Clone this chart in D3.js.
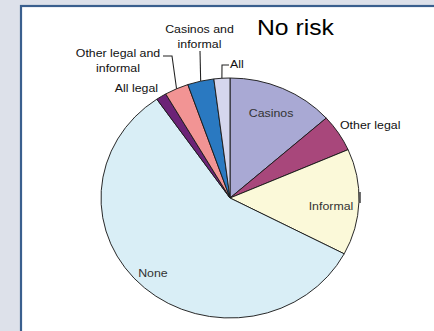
<!DOCTYPE html>
<html>
<head>
<meta charset="utf-8">
<script src="https://cdn.jsdelivr.net/npm/d3@7"></script>
<style>
  html, body { margin: 0; padding: 0; background: #dde1ea; }
  svg { display: block; font-family: "Liberation Sans", Arial, sans-serif; }
</style>
</head>
<body>
<div id="chart"></div>
<script>
// slices, clockwise from 12 o'clock
let categories = ["Casinos", "Other legal", "Informal", "None", "All legal",
  "Other legal and informal", "Casinos and informal", "All"];
let shares = [13.4, 5.0, 14.3, 57.7, 1.3, 3.0, 3.3, 2.0];
let sliceColors = ["#a9a9d4", "#a8477b", "#fbf9d9", "#d9eef6", "#6c2377",
  "#f29494", "#2a79c1", "#d5d6ed"];
let title = "No risk";

let width = 434;
let height = 331;
let stretch = 1.075;       // source picture is a bit wider than tall
let cx = 230 / stretch;
let cy = 198;
let radius = 120;

let svg = d3.select("#chart")
  .append("svg")
  .attr("width", width)
  .attr("height", height);

// white panel with blue frame
svg.append("rect")
  .attr("x", 21).attr("y", 6)
  .attr("width", width).attr("height", height)
  .attr("fill", "#fff")
  .attr("stroke", "#3a5f8e")
  .attr("stroke-width", 2.2);

let g = svg.append("g").attr("transform", "scale(" + stretch + ",1)");

let data = categories.map((c, i) => ({ name: c, value: shares[i], color: sliceColors[i] }));

let pie = d3.pie().value(d => d.value).sort(null);
let arc = d3.arc().innerRadius(0).outerRadius(radius);
let arcs = pie(data);

let pieG = g.append("g").attr("transform", "translate(" + cx + "," + cy + ")");

pieG.selectAll("path")
  .data(arcs)
  .join("path")
  .attr("d", arc)
  .attr("fill", d => d.data.color)
  .attr("stroke", "#1a1a1a")
  .attr("stroke-width", 0.9);

// labels inside slices
let innerArc = d3.arc().innerRadius(radius * 0.8).outerRadius(radius * 0.8);
let inside = ["Casinos", "Informal", "None"];
let insideShift = { "Casinos": [-1, 7], "Informal": [-2, 9], "None": [-8, 7] };

pieG.selectAll("text.inner")
  .data(arcs.filter(d => inside.includes(d.data.name)))
  .join("text")
  .attr("class", "inner")
  .attr("x", d => innerArc.centroid(d)[0] + insideShift[d.data.name][0])
  .attr("y", d => innerArc.centroid(d)[1] + insideShift[d.data.name][1])
  .attr("text-anchor", "middle")
  .attr("font-size", 11.5)
  .attr("fill", "#333")
  .text(d => d.data.name);

// labels outside the pie, positions in picture pixels
let outside = [
  { name: "Other legal", lines: ["Other legal"], x: 340, y: 129, anchor: "start" },
  { name: "All legal", lines: ["All legal"], x: 158, y: 92, anchor: "end" },
  { name: "Other legal and informal", lines: ["Other legal and", "informal"], x: 118, y: 57, anchor: "middle" },
  { name: "Casinos and informal", lines: ["Casinos and", "informal"], x: 199.5, y: 33, anchor: "middle" },
  { name: "All", lines: ["All"], x: 230, y: 68, anchor: "start" }
];

outside.forEach(o => {
  let t = g.append("text")
    .attr("x", o.x / stretch)
    .attr("y", o.y)
    .attr("text-anchor", o.anchor)
    .attr("font-size", 11.5)
    .attr("fill", "#111");
  o.lines.forEach((line, i) => {
    t.append("tspan")
      .attr("x", o.x / stretch)
      .attr("dy", i === 0 ? 0 : 15)
      .text(line);
  });
});

// leader lines: start at a label, end on the slice's rim
let rim = d => {
  let a = arcs.find(s => s.data.name === d);
  let mid = (a.startAngle + a.endAngle) / 2;
  return [cx + radius * Math.sin(mid), cy - radius * Math.cos(mid)];
};

let leaders = [
  { name: "Other legal and informal", from: [[163, 56], [172, 56]] },
  { name: "Casinos and informal", from: [[200, 51]] },
  { name: "All", from: [[229, 65], [222, 65]] }
];

leaders.forEach(l => {
  let pts = l.from.map(p => [p[0] / stretch, p[1]]);
  let end = rim(l.name);
  pts.push(end);
  g.append("path")
    .attr("d", d3.line()(pts))
    .attr("fill", "none")
    .attr("stroke", "#222")
    .attr("stroke-width", 1);
});

// small tick beside the Informal slice
g.append("line")
  .attr("x1", 360 / stretch).attr("x2", 360 / stretch)
  .attr("y1", 192).attr("y2", 203)
  .attr("stroke", "#222")
  .attr("stroke-width", 1.2);

g.append("text")
  .attr("x", 257 / stretch)
  .attr("y", 35)
  .attr("font-size", 23)
  .attr("fill", "#000")
  .text(title);
</script>
</body>
</html>
